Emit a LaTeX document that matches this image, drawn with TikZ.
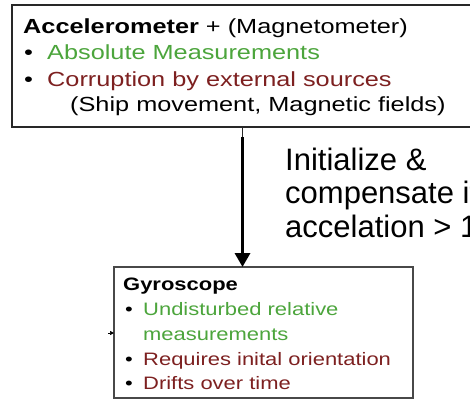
\documentclass[tikz,border=0pt]{standalone}
\usepackage{fontspec}
\setmainfont{Liberation Sans}
\newfontfamily\topfont[FakeStretch=1.24]{Liberation Sans}
\newfontfamily\gyrofont[FakeStretch=1.22]{Liberation Sans}
\usetikzlibrary{arrows.meta}
\definecolor{goodgreen}{RGB}{76,165,60}
\definecolor{badred}{RGB}{125,32,32}
\definecolor{boxline}{RGB}{40,40,40}
\tikzset{
  boxframe/.style={draw=boxline, line width=1.3pt, inner sep=0pt, outer sep=0pt},
  toptext/.style={anchor=base west, inner sep=0pt, font=\topfont\fontsize{20.4}{24}\selectfont},
  gyrotext/.style={anchor=base west, inner sep=0pt, font=\gyrofont\fontsize{18}{22}\selectfont},
  labeltext/.style={anchor=base west, inner sep=0pt, font=\fontsize{31}{34}\selectfont},
  bigarrow/.style={line width=3.3pt, -{Triangle[width=15pt,length=14pt]}, shorten >=0pt},
}
\begin{document}
\begin{tikzpicture}[x=1pt,y=-1pt]
\useasboundingbox (0,0) rectangle (470,399);
\fill[white] (0,0) rectangle (470,399);
\clip (0,0) rectangle (470,399);
% boxes
\node[boxframe, minimum width=470pt, minimum height=122pt, anchor=north west] (top) at (12,5) {};
\node[boxframe, draw=boxline!85, minimum width=299pt, minimum height=131pt, anchor=north west] (gyro) at (114,267) {};
% top box text
\node[toptext] (t1) at (23,33) {\textbf{Accelerometer} + (Magnetometer)};
\node[toptext] (b1) at (24,59) {•};
\node[toptext, text=goodgreen] (t2) at (47,59) {Absolute Measurements};
\node[toptext] (b2) at (24,86) {•};
\node[toptext, text=badred] (t3) at (47,86) {Corruption by external sources};
\node[toptext] (t4) at (70,111.5) {(Ship movement, Magnetic fields)};
% gyro box text
\node[gyrotext] (g1) at (123,290) {\textbf{Gyroscope}};
\node[gyrotext] (c1) at (125,315) {•};
\node[gyrotext, text=goodgreen] (g2) at (143,315) {Undisturbed relative};
\node[gyrotext, text=goodgreen] (g3) at (143,340) {measurements};
\node[gyrotext] (c2) at (125,365) {•};
\node[gyrotext, text=badred] (g4) at (143,365) {Requires inital orientation};
\node[gyrotext] (c3) at (125,389) {•};
\node[gyrotext, text=badred] (g5) at (143,389) {Drifts over time};
% label
\node[labeltext] (l1) at (285,170) {Initialize \&};
\node[labeltext] (l2) at (285,203.5) {compensate if};
\node[labeltext] (l3) at (285,237) {accelation > 1};
% connectors
\coordinate (ax) at (242.5,0);
\coordinate (astart) at (242.5,137);
\draw[line width=1pt, boxline] (top.south -| ax) -- (astart);
\draw[bigarrow] (astart) -- (gyro.north -| ax);
\coordinate (side) at (108,333);
\draw[line width=0.5pt, -{Triangle[width=4pt,length=4pt]}] (side) -- (gyro.west |- side);
\end{tikzpicture}
\end{document}
